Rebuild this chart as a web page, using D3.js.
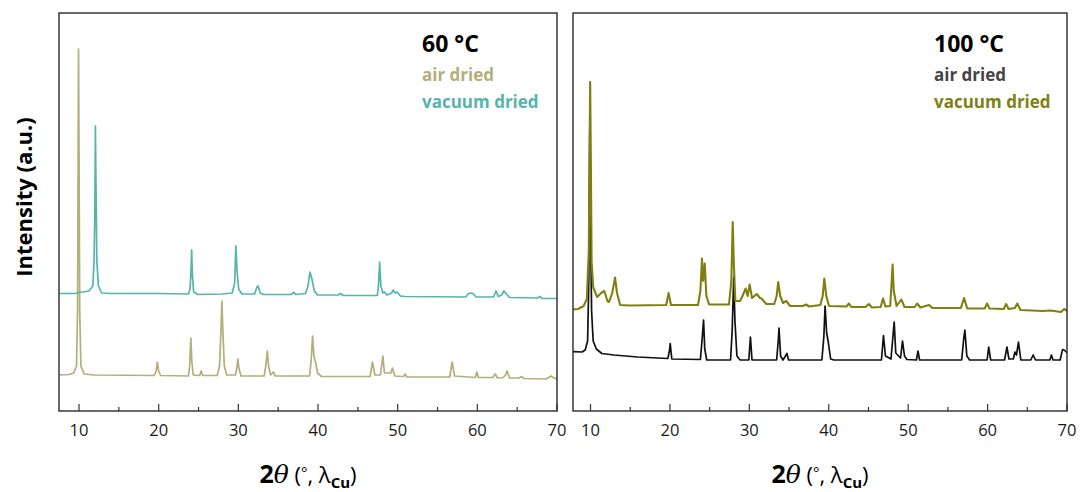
<!DOCTYPE html>
<html>
<head>
<meta charset="utf-8">
<script src="https://cdn.jsdelivr.net/npm/d3@7"></script>
<style>
  html, body { margin: 0; padding: 0; background: #fff; }
  svg { display: block; }
  text { font-family: "Open Sans", "Noto Sans", sans-serif; }
</style>
</head>
<body>
<svg id="chart" width="1080" height="492"></svg>
<script>
// XRD patterns, [2θ (deg), intensity (a.u.)]
const air60 = [
  [7.6, 36], [8.8, 36.5], [9.4, 38], [9.75, 45], [9.88, 100], [9.95, 250], [10.0, 362], [10.07, 250], [10.15, 100], [10.3, 45], [10.7, 37], [12, 36],
  [19.5, 35.5], [19.75, 40], [19.9, 49], [20.05, 40], [20.3, 35.5],
  [23.8, 35], [23.95, 45], [24.1, 73], [24.22, 50], [24.4, 36], [25.2, 35.5], [25.4, 40], [25.6, 35.5],
  [27.4, 35.5], [27.7, 45], [27.88, 80], [28.0, 110], [28.12, 80], [28.3, 45], [28.6, 36],
  [29.7, 36], [29.85, 42], [30.0, 52], [30.15, 42], [30.4, 35],
  [33.3, 35], [33.5, 45], [33.7, 60], [33.85, 45], [34.1, 36], [34.45, 39], [34.7, 35],
  [39.0, 35], [39.2, 50], [39.38, 75], [39.55, 55], [39.8, 47], [40.0, 38], [40.5, 34.5],
  [46.6, 34.5], [46.9, 49], [47.2, 36], [47.9, 36], [48.2, 55], [48.4, 38], [49.2, 38], [49.4, 43], [49.7, 35],
  [50.8, 34.5], [51.0, 37], [51.2, 34], [56.6, 34], [56.9, 49], [57.2, 35],
  [59.8, 33.5], [60.0, 39], [60.2, 33.5], [62.0, 33.5], [62.3, 37], [62.6, 33], [63.3, 33.5], [63.6, 36], [63.8, 40], [64.1, 33],
  [65.3, 33], [65.6, 34.5], [65.9, 32.5], [68.7, 32], [69.3, 35], [69.7, 33], [70.1, 32]
];
const vac60 = [
  [7.6, 117.5], [9.5, 117.5], [10.5, 119], [11.3, 120], [11.8, 125], [11.95, 150], [12.05, 200], [12.12, 285], [12.2, 220], [12.3, 150], [12.5, 125], [12.9, 118], [14, 117.5],
  [20, 117.5], [23.8, 117], [24.0, 122], [24.12, 140], [24.2, 161], [24.3, 135], [24.45, 119], [25, 116.5],
  [28, 117], [29.3, 118], [29.6, 128], [29.75, 165], [29.9, 140], [30.1, 122], [30.5, 117],
  [32.1, 117], [32.4, 124], [32.55, 125], [32.8, 118], [33.2, 116.5], [36.7, 116.5], [37.0, 118.5], [37.3, 116.5],
  [38.5, 117.5], [38.8, 125], [39.05, 139], [39.3, 132], [39.6, 120], [40, 116], [42.6, 116], [42.9, 117.5], [43.2, 115.5],
  [47.5, 115.5], [47.65, 125], [47.8, 149], [47.95, 125], [48.2, 118], [48.4, 119], [48.7, 116], [49.3, 118], [49.5, 121], [49.75, 118], [50.0, 119], [50.4, 115],
  [51, 114.5], [58.6, 114], [58.9, 117], [59.2, 118], [59.5, 117.5], [59.9, 114],
  [62.1, 114], [62.4, 120], [62.7, 114.5], [63.1, 116], [63.4, 120], [63.7, 117], [64.1, 113.5],
  [67.6, 113], [67.9, 114.5], [68.2, 112.5], [70.1, 112.5]
];
const air100 = [
  [7.7, 59.5], [9.0, 59], [9.4, 61], [9.7, 70], [9.85, 130], [9.97, 282], [10.08, 180], [10.2, 100], [10.4, 70], [10.8, 62], [11.5, 57.5], [13, 56], [16, 54],
  [19.8, 52.5], [20.0, 60], [20.1, 67.5], [20.3, 52],
  [23.9, 51.5], [24.1, 70], [24.3, 91], [24.45, 62], [24.7, 51],
  [27.7, 51], [27.9, 80], [28.1, 134], [28.25, 90], [28.5, 55], [28.9, 51],
  [30.0, 51], [30.2, 74], [30.4, 51],
  [33.5, 51], [33.7, 70], [33.8, 83], [34.0, 55], [34.3, 51], [34.8, 57.5], [35.0, 51],
  [39.2, 51], [39.45, 75], [39.6, 105], [39.8, 78], [40.0, 69], [40.3, 52], [40.7, 51],
  [46.7, 51], [46.95, 75.5], [47.2, 55], [47.9, 52], [48.3, 89], [48.5, 58], [49.1, 53], [49.35, 70], [49.6, 55], [49.9, 51.5],
  [51.1, 51], [51.3, 60], [51.5, 51], [56.8, 51], [57.05, 72], [57.2, 81], [57.45, 55], [57.8, 51],
  [60.0, 51], [60.2, 64], [60.45, 51], [62.2, 51], [62.5, 64], [62.75, 52], [63.3, 52], [63.5, 59], [63.7, 56], [63.95, 69], [64.25, 51],
  [65.5, 51], [65.8, 56], [66.1, 51], [67.9, 51], [68.1, 56], [68.3, 51], [69.2, 51], [69.5, 61.5], [69.7, 61], [70.1, 58]
];
const vac100 = [
  [7.7, 101.5], [8.5, 102], [9.2, 105], [9.6, 112], [9.85, 160], [9.95, 260], [10.02, 329], [10.1, 260], [10.2, 150], [10.4, 124], [10.9, 114],
  [11.4, 118], [11.8, 120], [12.2, 110], [12.4, 109], [12.8, 118], [13.15, 133.5], [13.4, 118], [13.8, 106], [15, 105.5],
  [19.6, 106], [19.9, 118], [20.2, 106],
  [23.6, 106], [23.9, 120], [24.1, 152.5], [24.25, 130], [24.45, 147.5], [24.65, 115], [25, 106.5],
  [27.5, 106.5], [27.8, 130], [27.97, 189], [28.1, 150], [28.3, 110], [28.9, 110], [29.2, 115], [29.6, 122.5], [29.85, 115], [30.1, 126.5], [30.4, 113],
  [31.0, 117], [31.4, 113], [31.6, 112.5], [32.2, 107], [33.2, 107], [33.5, 115], [33.7, 129], [33.95, 115], [34.3, 108], [34.7, 110], [35.2, 105],
  [36.8, 105], [37.2, 106.5], [37.6, 104.5], [39.0, 106], [39.3, 115], [39.5, 132.5], [39.75, 115], [40.1, 105],
  [42.3, 104.5], [42.6, 107.5], [42.9, 104], [44.7, 104], [45.1, 107], [45.5, 103.5],
  [46.6, 104], [46.9, 112.5], [47.2, 104.5], [47.8, 105], [47.95, 125], [48.1, 146.5], [48.25, 120], [48.6, 105], [49.2, 111.5], [49.6, 104],
  [50.9, 104], [51.2, 107.5], [51.6, 103.5], [52.7, 106], [53.1, 103], [56.7, 103], [57.1, 113], [57.5, 102.5],
  [59.7, 102.5], [60.0, 107.5], [60.3, 102.5], [62.1, 102], [62.4, 107], [62.7, 102], [63.5, 103], [63.8, 107.5], [64.2, 101],
  [67, 100], [68, 100.5], [69.3, 99], [69.7, 102], [70.1, 100]
];

const tickValues = [10, 20, 30, 40, 50, 60, 70];
const minorTicks = [15, 25, 35, 45, 55, 65];

const panels = [
  { title: "60 °C", x0: 59, x1: 557, domain: [7.55, 70.06],
    series: [
      { name: "air dried", data: air60, color: "#b3ae7a", width: 1.7 },
      { name: "vacuum dried", data: vac60, color: "#55b5ab", width: 1.7 }
    ],
    labelColors: ["#b3ae7a", "#55b5ab"], labelX: 422 },
  { title: "100 °C", x0: 573, x1: 1067, domain: [7.86, 70.06],
    series: [
      { name: "air dried", data: air100, color: "#111111", width: 1.7 },
      { name: "vacuum dried", data: vac100, color: "#808012", width: 2.1 }
    ],
    labelColors: ["#444444", "#808012"], labelX: 934 }
];

const plotTop = 13, plotBottom = 411;
const svg = d3.select("#chart");
const y = d3.scaleLinear().domain([0, 398]).range([plotBottom, plotTop]);

panels.forEach((p, i) => {
  const x = d3.scaleLinear().domain(p.domain).range([p.x0, p.x1]);
  const g = svg.append("g");

  const clipId = "clip" + i;
  svg.append("clipPath").attr("id", clipId)
    .append("rect").attr("x", p.x0).attr("y", plotTop).attr("width", p.x1 - p.x0).attr("height", plotBottom - plotTop);

  const line = d3.line().x(d => x(d[0])).y(d => y(d[1]));
  p.series.forEach(s => {
    g.append("path")
      .datum(s.data)
      .attr("clip-path", `url(#${clipId})`)
      .attr("fill", "none")
      .attr("stroke", s.color)
      .attr("stroke-width", s.width)
      .attr("stroke-linejoin", "round")
      .attr("d", line);
  });

  // bottom axis with inward ticks
  const axis = d3.axisBottom(x).tickValues(tickValues).tickSize(-7).tickPadding(13).tickFormat(d3.format("d"));
  const ax = g.append("g").attr("transform", `translate(0,${plotBottom})`).call(axis);
  ax.select(".domain").remove();
  ax.selectAll(".tick line").attr("stroke", "#333").attr("stroke-width", 1.2);
  ax.selectAll(".tick text").attr("fill", "#1a1a1a").style("font-size", "16.5px").style("font-family", "'Open Sans', sans-serif");
  const minor = d3.axisBottom(x).tickValues(minorTicks).tickSize(-4).tickFormat("");
  const mx = g.append("g").attr("transform", `translate(0,${plotBottom})`).call(minor);
  mx.select(".domain").remove();
  mx.selectAll(".tick line").attr("stroke", "#333").attr("stroke-width", 1.2);

  // frame
  g.append("rect")
    .attr("x", p.x0).attr("y", plotTop).attr("width", p.x1 - p.x0).attr("height", plotBottom - plotTop)
    .attr("fill", "none").attr("stroke", "#2a2a2a").attr("stroke-width", 1.4);

  // legend text
  g.append("text").attr("x", p.labelX).attr("y", 52)
    .style("font-size", "23px").style("font-weight", "700").attr("fill", "#000").text(p.title);
  p.series.forEach((s, k) => {
    g.append("text").attr("x", p.labelX).attr("y", 81 + k * 27)
      .style("font-size", "17px").style("font-weight", "700").attr("fill", p.labelColors[k]).text(s.name);
  });

  // x axis title: 2θ (°, λCu)
  const cx = (p.x0 + p.x1) / 2;
  const t = g.append("text").attr("x", cx).attr("y", 483).attr("text-anchor", "middle")
    .style("font-size", "25px").attr("fill", "#000");
  t.append("tspan").style("font-weight", "700").text("2");
  t.append("tspan").style("font-style", "italic")
    .style("font-family", "'DejaVu Serif', serif").text("θ");
  t.append("tspan").style("font-size", "22px").text(" (");
  t.append("tspan").style("font-size", "15px").attr("dy", -5).text("°");
  t.append("tspan").style("font-size", "22px").attr("dy", 5).text(", λ");
  t.append("tspan").style("font-size", "15px").style("font-weight", "700").attr("dy", 5).text("Cu");
  t.append("tspan").style("font-size", "22px").attr("dy", -5).text(")");
});

// y axis title
svg.append("text")
  .attr("transform", "translate(32,197) rotate(-90)")
  .attr("text-anchor", "middle")
  .style("font-size", "22px").style("font-weight", "700").attr("fill", "#000")
  .text("Intensity (a.u.)");
</script>
</body>
</html>
